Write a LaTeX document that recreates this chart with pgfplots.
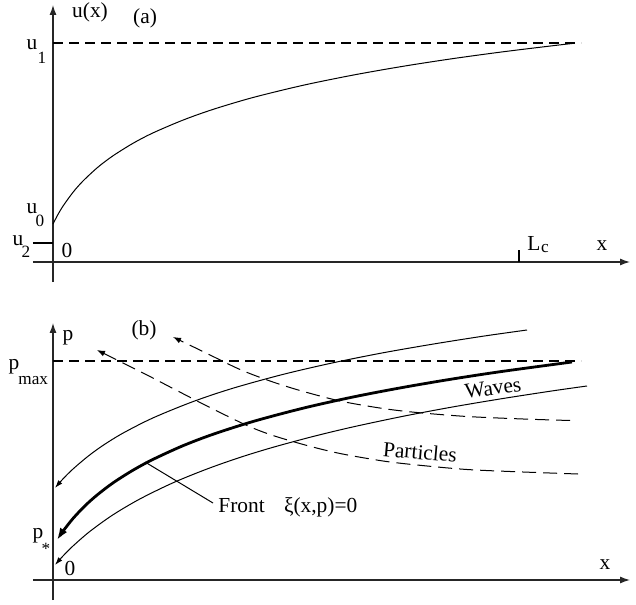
\documentclass[border=0pt]{standalone}
\usepackage{fontspec}
\setmainfont{Liberation Serif}
\usepackage{pgfplots}
\pgfplotsset{compat=1.18}
\usetikzlibrary{arrows.meta}

\begin{document}
\begin{tikzpicture}[every node/.append style={font=\fontsize{10.7}{12}\selectfont, inner sep=0pt}]
\pgfplotsset{
  sketch/.style={
    x=0.5pt, y=0.5pt,
    xmin=-20, xmax=577, ymin=-20, ymax=257,
    enlargelimits=false,
    axis lines=middle,
    axis line style={-{Latex[length=5pt,width=3.5pt]}, line width=0.6pt, black!85},
    xtick=\empty, ytick=\empty,
    clip=false,
  },
}
\newcommand{\sub}[1]{{\fontsize{8.6}{10}\selectfont #1}}

% (a) velocity profile
\begin{axis}[sketch]
\path (axis cs:-53,262) rectangle (axis cs:583,-342);
\addplot[line width=0.6pt, dash pattern=on 5pt off 3pt] coordinates {(0,219) (528,219)};
\addplot[line width=0.5pt, smooth] coordinates {
  (0,38) (5,47.6) (10,55.9) (20,69.7) (30,81) (45,94.9) (60,106.2) (80,118.7)
  (100,129.1) (130,141.9) (160,152.6) (200,164.5) (250,176.7) (300,186.9)
  (350,195.7) (400,203.4) (450,210.2) (500,216.3) (519,218.5)
};
\draw[line width=0.6pt] (-20,19) -- (0,19);
\draw[line width=0.6pt] (466,0) -- (466,12);
\node at (37,250) {u(x)};
\node at (92,244) {(a)};
\node[anchor=base] at (-21,212) {u};
\node at (-11,204) {\sub{1}};
\node[anchor=base] at (-21,49) {u};
\node at (-13,41) {\sub{0}};
\node[anchor=base] at (-35,17) {u};
\node at (-27,10) {\sub{2}};
\node at (14,12) {0};
\node[anchor=base] at (481,12) {L};
\node at (492,13) {\sub{c}};
\node at (549,16) {x};
\end{axis}

% (b) wave and particle trajectories
\begin{axis}[sketch, yshift=-159pt]
\addplot[line width=0.6pt, dash pattern=on 5pt off 3pt] coordinates {(0,219) (528,219)};
% upper wave
\addplot[line width=0.5pt, smooth, -{Latex[length=4pt,width=2.6pt]}] coordinates {
  (474,250) (430,243.8) (380,235.9) (330,227.2) (280,217.2) (230,205.6)
  (180,191.8) (140,178.4) (100,162.1) (70,146.9) (50,134.6) (35,123.7)
  (20,111) (10,101.1) (2,92)
};
% front
\addplot[line width=1.4pt, smooth, -{Latex[length=6pt,width=4.2pt]}] coordinates {
  (519,218) (450,208.7) (400,201.1) (350,192.6) (300,183) (250,171.8)
  (200,158.5) (160,145.7) (130,134.3) (100,120.6) (80,109.8) (60,97.1)
  (44,84.9) (32,74.2) (20,61.5) (10,48.8) (4,40)
};
% lower wave
\addplot[line width=0.5pt, smooth, -{Latex[length=4pt,width=2.6pt]}] coordinates {
  (534,194) (500,189.2) (450,181.5) (400,173.1) (350,163.7) (300,153.1)
  (260,143.5) (220,132.7) (187,122.6) (154,111) (120,97.2) (87,81.1)
  (60,65.2) (37,48.7) (20,34) (10,24) (2,15)
};
% particles
\addplot[line width=0.5pt, smooth, dash pattern=on 7pt off 3.5pt, -{Latex[length=4pt,width=3pt]}] coordinates {
  (517,159.5) (470,161) (414,163.5) (364,167.5) (330,171.5) (287,179)
  (247,189.5) (217,199) (187,210.5) (154,226.5) (120,243)
};
\addplot[line width=0.5pt, smooth, dash pattern=on 7pt off 3.5pt, -{Latex[length=4pt,width=3pt]}] coordinates {
  (525,106) (470,108) (414,110.5) (364,115) (330,119) (287,126.5)
  (254,134.5) (220,144.5) (194,154.5) (154,174) (120,191.5) (95,204.5)
  (70,217) (44,230)
};
\draw[line width=0.5pt] (92,118) -- (160,77);
\node[anchor=west] at (165,73) {Front\hspace{0.9em}ξ(x,p)=0};
\node[rotate=8] at (440,192) {Waves};
\node[rotate=-5] at (367,128) {Particles};
\node at (15,242) {p};
\node at (91,250) {(b)};
\node[anchor=base] at (-39,210) {p};
\node[anchor=base west] at (-35,195) {\sub{max}};
\node[anchor=base] at (-15,42) {p};
\node at (-7,31) {\sub{*}};
\node at (17,12) {0};
\node at (552,15) {x};
\end{axis}
\end{tikzpicture}
\end{document}
